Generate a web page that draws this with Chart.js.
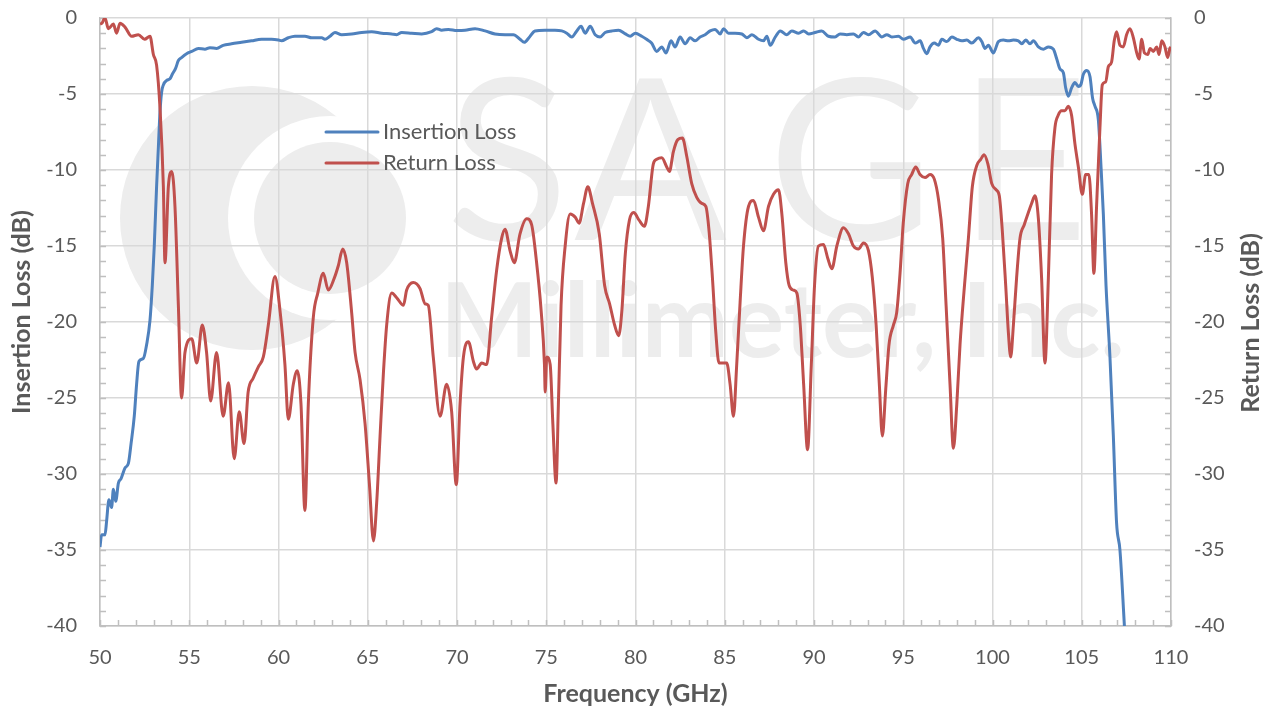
<!DOCTYPE html>
<html>
<head>
<meta charset="utf-8">
<script src="https://cdn.jsdelivr.net/npm/chart.js@4.4.1/dist/chart.umd.min.js"></script>
<style>
  html, body { margin: 0; padding: 0; background: #fff; }
  #wrap { width: 1273px; height: 710px; }
</style>
</head>
<body>
<div id="wrap"><canvas id="chart" width="1273" height="710"></canvas></div>
<script>
// Insertion loss (GHz, dB)
const ilFreq = [50.0, 50.09, 50.28, 50.37, 50.5, 50.65, 50.75, 50.88, 51.03, 51.18, 51.4, 51.59, 51.74, 51.92, 52.05, 52.18, 52.43, 52.61, 52.8, 52.93,
  53.04, 53.17, 53.27, 53.36, 53.45, 53.55, 53.74, 53.92, 54.05, 54.24, 54.39, 54.57, 54.85, 55.14, 55.51, 55.88, 56.16, 56.53, 56.9, 57.37,
  57.93, 58.49, 59.05, 59.61, 60.0, 60.17, 60.55, 60.92, 61.48, 61.86, 62.42, 62.6, 62.88, 63.16, 63.54, 64.1, 64.66, 65.22, 65.78, 66.34,
  66.62, 66.9, 67.46, 68.02, 68.58, 68.86, 69.14, 69.52, 70.0, 70.45, 71.01, 71.57, 72.13, 72.69, 73.16, 73.53, 73.77, 74.03, 74.37, 74.93,
  75.49, 75.87, 76.15, 76.43, 76.71, 76.95, 77.18, 77.46, 77.74, 78.02, 78.3, 78.68, 79.05, 79.43, 79.71, 79.99, 80.35, 80.62, 80.9, 81.19,
  81.47, 81.71, 81.99, 82.22, 82.5, 82.78, 83.06, 83.34, 83.62, 83.9, 84.18, 84.46, 84.74, 84.93, 85.21, 85.58, 85.96, 86.24, 86.52, 86.89,
  87.17, 87.36, 87.55, 87.83, 88.11, 88.48, 88.76, 89.14, 89.42, 89.7, 90.06, 90.43, 90.81, 91.18, 91.46, 91.84, 92.21, 92.49, 92.77, 93.05,
  93.42, 93.8, 94.08, 94.36, 94.73, 95.01, 95.39, 95.67, 95.95, 96.13, 96.32, 96.5, 96.74, 96.97, 97.16, 97.44, 97.72, 98.0, 98.28, 98.56,
  98.84, 99.21, 99.4, 99.58, 99.77, 100.05, 100.33, 100.61, 100.89, 101.17, 101.45, 101.64, 101.86, 102.1, 102.29, 102.57, 102.85, 103.13, 103.41, 103.6,
  103.78, 103.97, 104.1, 104.25, 104.43, 104.62, 104.81, 104.96, 105.09, 105.28, 105.46, 105.61, 105.74, 105.93, 106.08, 106.21, 106.36, 106.58, 106.77, 106.95,
  107.14, 107.39];
const ilLoss = [-34.8, -34.0, -34.0, -33.1, -31.7, -32.2, -31.0, -31.8, -30.6, -30.3, -29.6, -29.3, -28.0, -26.2, -24.1, -22.6, -22.4, -21.5, -19.9, -17.6,
  -15.0, -11.1, -8.5, -6.2, -4.9, -4.4, -4.1, -4.0, -3.7, -3.3, -2.8, -2.6, -2.35, -2.2, -2.0, -2.05, -1.95, -2.0, -1.8, -1.7,
  -1.6, -1.5, -1.4, -1.4, -1.45, -1.5, -1.3, -1.2, -1.2, -1.3, -1.3, -1.4, -1.2, -0.95, -1.1, -1.05, -0.95, -0.9, -1.0, -1.05,
  -1.1, -0.95, -1.0, -1.05, -0.9, -0.7, -0.8, -0.75, -0.82, -0.8, -0.7, -0.85, -1.05, -1.1, -1.1, -1.4, -1.6, -1.3, -0.85, -0.8,
  -0.8, -0.85, -1.0, -1.25, -0.85, -0.55, -1.0, -0.55, -1.1, -1.25, -0.95, -0.85, -0.8, -1.05, -1.2, -1.0, -1.2, -1.4, -1.65, -2.2,
  -1.9, -2.3, -1.5, -1.9, -1.25, -1.7, -1.3, -1.5, -1.25, -1.1, -0.85, -0.75, -1.05, -0.7, -1.0, -1.0, -1.05, -1.3, -1.1, -1.4,
  -1.5, -1.2, -1.8, -1.25, -0.85, -1.1, -0.85, -1.0, -0.85, -1.05, -0.95, -0.85, -1.2, -1.25, -1.05, -1.1, -1.05, -1.25, -0.95, -1.1,
  -0.85, -1.25, -1.1, -1.25, -1.2, -1.4, -1.25, -1.65, -1.5, -2.0, -2.35, -1.9, -1.65, -1.8, -1.4, -1.55, -1.25, -1.4, -1.5, -1.45,
  -1.65, -1.3, -1.55, -2.0, -1.8, -2.3, -1.55, -1.45, -1.5, -1.45, -1.5, -1.7, -1.45, -1.7, -1.5, -1.9, -2.05, -1.9, -2.05, -2.7,
  -3.35, -3.6, -4.6, -5.15, -4.6, -4.25, -4.5, -4.35, -3.7, -3.45, -3.85, -5.3, -5.8, -6.7, -9.8, -12.9, -17.6, -22.3, -27.5, -33.2,
  -35.0, -40.0];

// Return loss (GHz, dB)
const rlFreq = [50.0, 50.1, 50.28, 50.47, 50.75, 50.93, 51.12, 51.4, 51.77, 52.15, 52.5, 52.8, 52.99, 53.17, 53.36, 53.55, 53.64, 53.83, 54.02, 54.2,
  54.39, 54.57, 54.76, 55.14, 55.42, 55.73, 55.97, 56.2, 56.53, 56.9, 57.2, 57.52, 57.8, 58.07, 58.3, 58.58, 58.87, 59.15, 59.43, 59.8,
  60.08, 60.36, 60.55, 60.83, 61.05, 61.26, 61.48, 61.67, 61.95, 62.2, 62.51, 62.79, 63.13, 63.35, 63.6, 63.82, 64.1, 64.29, 64.57, 64.85,
  65.09, 65.32, 65.5, 65.69, 65.88, 66.06, 66.34, 66.62, 67.0, 67.18, 67.55, 67.93, 68.21, 68.39, 68.67, 69.05, 69.42, 69.7, 69.96, 70.17,
  70.36, 70.64, 70.92, 71.1, 71.38, 71.66, 71.94, 72.22, 72.5, 72.69, 72.97, 73.21, 73.53, 73.9, 74.18, 74.46, 74.71, 74.9, 74.94, 75.03,
  75.22, 75.37, 75.55, 75.68, 75.83, 76.06, 76.34, 76.62, 76.84, 77.09, 77.33, 77.59, 77.97, 78.27, 78.55, 78.83, 79.06, 79.24, 79.43, 79.66,
  79.9, 80.2, 80.5, 80.72, 81.0, 81.19, 81.47, 81.75, 81.9, 82.12, 82.37, 82.63, 82.87, 83.15, 83.43, 83.71, 83.94, 84.12, 84.31, 84.5,
  84.68, 84.93, 85.11, 85.3, 85.49, 85.67, 85.86, 86.05, 86.33, 86.61, 86.89, 87.17, 87.45, 87.73, 88.01, 88.2, 88.42, 88.61, 88.85, 89.04,
  89.23, 89.42, 89.64, 89.85, 90.03, 90.25, 90.53, 90.77, 91.0, 91.28, 91.65, 91.93, 92.21, 92.49, 92.77, 93.05, 93.27, 93.48, 93.66, 93.83,
  94.02, 94.2, 94.45, 94.63, 94.82, 95.0, 95.25, 95.47, 95.7, 95.94, 96.22, 96.5, 96.74, 96.97, 97.21, 97.4, 97.62, 97.81, 98.0, 98.18,
  98.43, 98.65, 98.87, 99.12, 99.34, 99.53, 99.74, 99.96, 100.2, 100.38, 100.55, 100.74, 100.89, 101.02, 101.17, 101.35, 101.54, 101.78, 102.01, 102.19,
  102.38, 102.57, 102.75, 102.94, 103.13, 103.31, 103.5, 103.68, 103.87, 104.06, 104.25, 104.43, 104.62, 104.81, 105.03, 105.22, 105.4, 105.55, 105.68, 105.83,
  106.02, 106.15, 106.34, 106.49, 106.67, 106.82, 106.95, 107.14, 107.33, 107.51, 107.7, 107.89, 108.08, 108.21, 108.36, 108.51, 108.7, 108.83, 109.01, 109.2,
  109.33, 109.48, 109.66, 109.81, 109.94, 110.0];
const rlLoss = [-0.4, -0.35, 0, -0.7, -0.4, -1.0, -0.35, -0.6, -1.2, -1.1, -1.4, -1.2, -2.4, -3.1, -5.9, -11.1, -16.1, -11.1, -10.1, -12.4,
  -18.9, -25.0, -22.0, -21.1, -22.7, -20.2, -22.0, -25.2, -22.0, -26.2, -24.0, -29.0, -25.9, -28.0, -24.6, -23.7, -22.95, -22.3, -20.2, -17.0,
  -19.2, -22.8, -26.4, -24.1, -23.2, -25.4, -32.4, -25.4, -19.7, -18.1, -16.8, -17.9, -17.1, -16.3, -15.2, -16.1, -19.4, -22.0, -23.8, -26.7,
  -30.6, -34.4, -31.9, -27.5, -23.3, -20.2, -18.1, -18.4, -18.9, -17.9, -17.4, -17.8, -18.8, -18.9, -22.3, -26.2, -24.1, -25.9, -30.7, -25.4,
  -22.3, -21.3, -22.6, -23.1, -22.7, -22.8, -19.7, -16.6, -14.5, -13.9, -15.3, -16.1, -14.2, -13.2, -13.6, -16.1, -19.2, -22.8, -24.6, -22.3,
  -22.8, -26.7, -30.6, -25.4, -18.9, -15.0, -12.9, -13.1, -13.5, -12.2, -11.1, -12.2, -14.2, -17.6, -18.8, -20.2, -20.9, -19.2, -15.5, -13.3,
  -12.8, -13.3, -13.7, -12.4, -9.6, -9.3, -9.2, -9.8, -10.1, -8.8, -8.0, -7.9, -9.1, -10.9, -11.8, -12.2, -12.4, -14.0, -17.1, -20.7,
  -22.7, -22.7, -22.7, -24.1, -26.2, -22.8, -18.7, -15.0, -12.4, -12.0, -13.1, -14.0, -12.4, -11.6, -11.3, -12.9, -16.1, -17.6, -17.9, -18.1,
  -20.2, -24.1, -28.4, -22.8, -17.6, -15.0, -14.9, -15.8, -16.5, -15.0, -13.8, -14.2, -15.0, -15.2, -14.8, -15.3, -17.1, -20.2, -24.1, -27.5,
  -24.4, -21.5, -20.2, -19.4, -16.8, -13.5, -10.9, -10.3, -9.8, -10.3, -10.5, -10.3, -10.6, -11.9, -14.5, -18.9, -24.1, -28.3, -25.4, -21.5,
  -17.6, -14.5, -11.1, -9.7, -9.3, -9.0, -9.6, -10.9, -11.3, -11.7, -14.0, -17.6, -20.7, -22.3, -20.2, -17.1, -14.5, -13.6, -12.8, -12.2,
  -11.7, -13.2, -17.1, -22.7, -17.1, -10.3, -7.2, -6.4, -6.1, -6.1, -5.8, -6.4, -8.3, -9.8, -11.6, -10.3, -10.3, -12.9, -16.8, -12.4,
  -7.2, -4.4, -4.2, -3.2, -2.9, -1.5, -0.9, -1.8, -1.9, -1.1, -0.7, -1.3, -2.3, -2.7, -1.4, -2.3, -2.4, -2.0, -2.2, -1.9,
  -2.4, -1.5, -1.9, -2.6, -2.0, -1.9];

const X_MIN = 50;
const X_MAX = 110;
const X_STEP = 5;
const Y_MIN = -40;
const Y_MAX = 0;
const Y_STEP = 5;
const MINOR_STEP = 1;

const TEXT_COLOR = '#595959';
const GRID_COLOR = '#d9d9d9';
const AXIS_COLOR = '#bfbfbf';
const FONT = 'Lato';

Chart.defaults.font.family = FONT;
Chart.defaults.color = TEXT_COLOR;

const seriesList = [
  { label: 'Insertion Loss', color: '#4f81bd', freq: ilFreq, values: ilLoss, axis: 'y' },
  { label: 'Return Loss', color: '#c0504d', freq: rlFreq, values: rlLoss, axis: 'yRight' }
];

function toPoints(freq, values) {
  return freq.map((f, i) => ({ x: f, y: values[i] }));
}

// faint company logo behind the grid
const watermark = {
  id: 'watermark',
  beforeDraw(chart) {
    const { ctx } = chart;
    ctx.save();
    ctx.fillStyle = '#ededed';
    ctx.beginPath();
    ctx.arc(252, 218, 132, 0, Math.PI * 2);
    ctx.fill();
    ctx.fillStyle = '#ffffff';
    ctx.beginPath();
    ctx.arc(330, 218, 102, 0, Math.PI * 2);
    ctx.fill();
    ctx.fillStyle = '#ededed';
    ctx.beginPath();
    ctx.arc(330, 218, 76, 0, Math.PI * 2);
    ctx.fill();
    ctx.font = `400 226px ${FONT}`;
    ctx.textBaseline = 'alphabetic';
    [['S', 446], ['A', 574], ['G', 768], ['E', 958]].forEach(([ch, x]) => ctx.fillText(ch, x, 240));
    ctx.font = `bold 104px ${FONT}`;
    ctx.fillText('Millimeter, Inc.', 440, 357, 685);
    ctx.restore();
  }
};

const minorTicks = {
  id: 'minorTicks',
  beforeDatasetsDraw(chart) {
    const { ctx, chartArea, scales } = chart;
    ctx.save();
    ctx.strokeStyle = AXIS_COLOR;
    ctx.lineWidth = 1.5;
    ctx.beginPath();
    for (let v = Y_MIN; v <= Y_MAX; v += MINOR_STEP) {
      const py = Math.round(scales.y.getPixelForValue(v)) + 0.5;
      ctx.moveTo(chartArea.left, py);
      ctx.lineTo(chartArea.left + 6, py);
      ctx.moveTo(chartArea.right - 6, py);
      ctx.lineTo(chartArea.right, py);
    }
    for (let f = X_MIN; f <= X_MAX; f += MINOR_STEP) {
      const px = Math.round(scales.x.getPixelForValue(f)) + 0.5;
      ctx.moveTo(px, chartArea.bottom);
      ctx.lineTo(px, chartArea.bottom - 6);
    }
    ctx.stroke();
    ctx.restore();
  }
};

const titlesAndLegend = {
  id: 'titlesAndLegend',
  afterDraw(chart) {
    const { ctx, chartArea } = chart;
    ctx.save();
    ctx.fillStyle = TEXT_COLOR;
    ctx.font = `bold 25px ${FONT}`;
    ctx.textAlign = 'center';
    ctx.textBaseline = 'middle';
    ctx.fillText('Frequency (GHz)', (chartArea.left + chartArea.right) / 2, 694);

    ctx.save();
    ctx.translate(22, 312);
    ctx.rotate(-Math.PI / 2);
    ctx.fillText('Insertion Loss (dB)', 0, 0);
    ctx.restore();

    ctx.save();
    ctx.translate(1251, 323);
    ctx.rotate(-Math.PI / 2);
    ctx.fillText('Return Loss (dB)', 0, 0);
    ctx.restore();

    ctx.font = `22px ${FONT}`;
    ctx.textAlign = 'left';
    ctx.lineCap = 'round';
    ctx.lineWidth = 3;
    seriesList.forEach((s, i) => {
      const ly = 132 + i * 31;
      ctx.strokeStyle = s.color;
      ctx.beginPath();
      ctx.moveTo(326, ly);
      ctx.lineTo(378, ly);
      ctx.stroke();
      ctx.fillText(s.label, 383, ly);
    });
    ctx.restore();
  }
};

const tickFont = { family: FONT, size: 20 };

// fixed box sizes so the plot area lands where the reference has it
function fitVertical(width) {
  return (scale) => {
    scale.width = width;
    scale.paddingTop = 0;
    scale.paddingBottom = 0;
  };
}

new Chart(document.getElementById('chart'), {
  type: 'line',
  data: {
    datasets: seriesList.map((s, i) => ({
      label: s.label,
      data: toPoints(s.freq, s.values),
      yAxisID: s.axis,
      borderColor: s.color,
      backgroundColor: s.color,
      borderWidth: 3,
      pointRadius: 0,
      cubicInterpolationMode: 'monotone',
      fill: false,
      order: seriesList.length - i
    }))
  },
  options: {
    responsive: false,
    animation: false,
    devicePixelRatio: 1,
    layout: { padding: { top: 18, left: 0, right: 0, bottom: 0 } },
    plugins: {
      legend: { display: false },
      tooltip: { enabled: false }
    },
    scales: {
      x: {
        type: 'linear',
        min: X_MIN,
        max: X_MAX,
        ticks: { stepSize: X_STEP, font: tickFont, color: TEXT_COLOR, padding: 20 },
        grid: { color: GRID_COLOR, lineWidth: 1.5, drawTicks: false },
        border: { color: AXIS_COLOR, width: 1.5 },
        afterFit(scale) {
          scale.height = 84;
          scale.paddingLeft = 0;
          scale.paddingRight = 0;
        }
      },
      y: {
        position: 'left',
        min: Y_MIN,
        max: Y_MAX,
        ticks: { stepSize: Y_STEP, font: tickFont, color: TEXT_COLOR, padding: 23 },
        grid: { color: GRID_COLOR, lineWidth: 1.5, drawTicks: false },
        border: { color: AXIS_COLOR, width: 1.5 },
        afterFit: fitVertical(100)
      },
      yRight: {
        position: 'right',
        min: Y_MIN,
        max: Y_MAX,
        ticks: { stepSize: Y_STEP, font: tickFont, color: TEXT_COLOR, padding: 23 },
        grid: { display: false, drawTicks: false },
        border: { color: AXIS_COLOR, width: 1.5 },
        afterFit: fitVertical(102)
      }
    }
  },
  plugins: [watermark, minorTicks, titlesAndLegend]
});
</script>
</body>
</html>
